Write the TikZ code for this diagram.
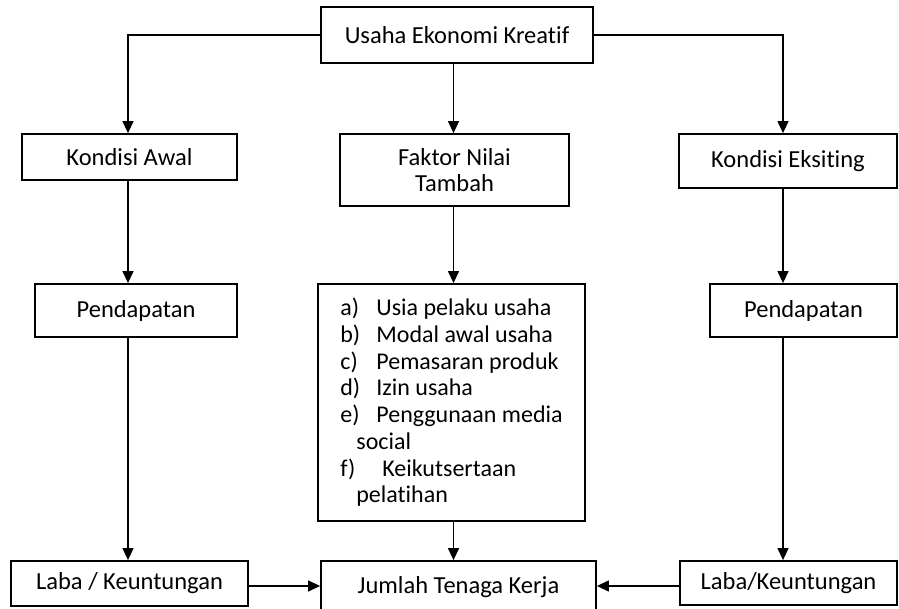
\documentclass[tikz,border=0pt]{standalone}
\usepackage{fontspec}
\setmainfont{Carlito}[Ligatures={NoCommon}]
\usetikzlibrary{arrows.meta}
\begin{document}
\begin{tikzpicture}[x=1pt,y=-1pt,
  box/.style={draw, line width=1.8pt, inner sep=0pt, font=\fontsize{24.5}{26}\selectfont, align=center},
  arr/.style={line width=1.3pt, -{Triangle[length=12pt,width=11pt]}}]
\useasboundingbox (0,0) rectangle (899,609);
\coordinate (colL) at (128,0);
\coordinate (colM) at (453.5,0);
\coordinate (colR) at (783,0);
\coordinate (rowB) at (0,586);

\node[box, minimum width=272pt, minimum height=56pt] (top) at (457,35) {Usaha Ekonomi Kreatif};
\node[box, minimum width=215pt, minimum height=46pt] (kawal) at (129.5,157) {Kondisi Awal};
\node[box, minimum width=229pt, minimum height=72pt] (faktor) at (454.5,170) {Faktor Nilai\\Tambah};
\node[box, minimum width=218pt, minimum height=54pt] (keks) at (788,161) {Kondisi Eksiting};
\node[box, minimum width=202pt, minimum height=53pt] (pend1) at (136,310.5) {Pendapatan};
\node[box, minimum width=267pt, minimum height=237pt, align=left, font=\fontsize{24}{26.7}\selectfont] (list) at (451.5,402.5) {%
\makebox[36pt][l]{a)}Usia pelaku usaha\\
\makebox[36pt][l]{b)}Modal awal usaha\\
\makebox[36pt][l]{c)}Pemasaran produk\\
\makebox[36pt][l]{d)}Izin usaha\\
\makebox[36pt][l]{e)}Penggunaan media\\
\hspace*{16pt}social\\
\makebox[36pt][l]{f)}\hspace*{6pt}Keikutsertaan\\
\hspace*{16pt}pelatihan};
\node[box, minimum width=187pt, minimum height=53pt] (pend2) at (803.5,310.5) {Pendapatan};
\node[box, minimum width=237pt, minimum height=45pt] (laba1) at (129.5,583.5) {Laba / Keuntungan};
\node[draw, line width=1.8pt, inner xsep=0pt, inner ysep=0pt, font=\fontsize{24.5}{26}\selectfont, minimum width=275pt, text height=32pt, text depth=22pt, anchor=base] (jumlah) at (458.5,593) {Jumlah Tenaga Kerja};
\node[box, minimum width=217pt, minimum height=44pt] (laba2) at (788.5,583) {Laba/Keuntungan};

\draw[arr] (top.west) -| (kawal.north -| colL);
\draw[arr] (top.east) -| (keks.north -| colR);
\draw[arr] (top.south -| colM) -- (faktor.north -| colM);
\draw[arr] (kawal.south -| colL) -- (pend1.north -| colL);
\draw[arr] (faktor.south -| colM) -- (list.north -| colM);
\draw[arr] (keks.south -| colR) -- (pend2.north -| colR);
\draw[arr] (pend1.south -| colL) -- (laba1.north -| colL);
\draw[arr] (list.south -| colM) -- (jumlah.north -| colM);
\draw[arr] (pend2.south -| colR) -- (laba2.north -| colR);
\draw[arr] (laba1.east |- rowB) -- (jumlah.west |- rowB);
\draw[arr] (laba2.west |- rowB) -- (jumlah.east |- rowB);
\end{tikzpicture}
\end{document}
